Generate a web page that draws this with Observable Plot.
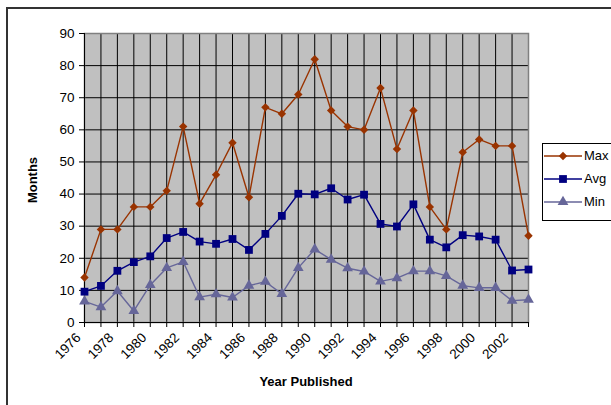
<!DOCTYPE html>
<html><head><meta charset="utf-8">
<script src="https://cdn.jsdelivr.net/npm/d3@7"></script>
<script src="https://cdn.jsdelivr.net/npm/@observablehq/plot@0.6"></script>
<style>
body{margin:0;background:#fff;font-family:"Liberation Sans",Arial,sans-serif}
#wrap{position:relative;width:611px;height:405px;overflow:hidden}
#border{position:absolute;left:6px;top:7px;width:700px;height:500px;border:2px solid #333;box-sizing:border-box}
#ytitle{position:absolute;left:32px;top:180px;transform:translate(-50%,-50%) rotate(-90deg);font-weight:bold;font-size:13px;white-space:nowrap}
#xtitle{position:absolute;left:306px;top:381px;transform:translate(-50%,-50%);font-weight:bold;font-size:13px;white-space:nowrap}
#legend{position:absolute;left:542px;top:143px;width:80px;height:78px;border:1px solid #000;box-sizing:border-box;background:#fff}
.li{position:absolute;left:0;height:16px;font-size:13px}
.li svg{position:absolute;left:1px;top:0}
.li span{position:absolute;left:41px;top:0;line-height:16px}
#chart{position:absolute;left:0;top:0}
#chart svg text{font-family:"Liberation Sans",Arial,sans-serif !important;font-size:13.5px !important}
</style></head><body>
<div id="wrap"><div id="border"></div><div id="chart"></div>
<div id="ytitle">Months</div><div id="xtitle">Year Published</div>
<div id="legend"></div></div>
<script>
const years = [1976,1977,1978,1979,1980,1981,1982,1983,1984,1985,1986,1987,1988,1989,1990,1991,1992,1993,1994,1995,1996,1997,1998,1999,2000,2001,2002,2003];
const maxVals = [14,29,29,36,36,41,61,37,46,56,39,67,65,71,82,66,61,60,73,54,66,36,29,53,57,55,55,27];
const avgVals = [9.6,11.4,16.1,18.8,20.6,26.3,28.2,25.2,24.5,26,22.6,27.6,33.2,40.1,39.9,41.8,38.3,39.8,30.7,29.9,36.8,25.8,23.4,27.2,26.8,25.8,16.2,16.5];
const minVals = [6.6,4.8,9.8,3.6,11.7,17,18.9,7.9,8.8,7.8,11.5,12.7,8.9,17,22.8,19.6,16.9,15.9,12.8,13.8,16,16,14.5,11.5,10.8,10.8,6.8,7.1];
const yTicks = [0,10,20,30,40,50,60,70,80,90];
const labelYears = [1976,1978,1980,1982,1984,1986,1988,1990,1992,1994,1996,1998,2000,2002];

const series = [
  {name:"Max", vals:maxVals, color:"#993300", symbol:"diamond2", r:3.8},
  {name:"Avg", vals:avgVals, color:"#000080", symbol:"square", r:4.4},
  {name:"Min", vals:minVals, color:"#666699", symbol:"triangle", r:4.0}
];
const rows = series.flatMap(s => years.map((y,i) => ({year:y, value:s.vals[i], name:s.name})));

const marks = [
  Plot.frame({fill:"#c0c0c0"}),
  Plot.gridY(yTicks, {stroke:"#000", strokeOpacity:1}),
  Plot.gridX(years, {stroke:"#000", strokeOpacity:1}),
  Plot.frame({stroke:"#808080", strokeWidth:1.5}),
  Plot.ruleX([1976], {stroke:"#000"}),
  Plot.ruleY([0], {stroke:"#000"}),
  Plot.axisY({ticks:yTicks, tickSize:5, tickFormat:() => "", label:null}),
  Plot.axisX({ticks:years, tickSize:5, tickFormat:() => "", label:null}),
  Plot.text(yTicks, {y:d => d, frameAnchor:"left", dx:-10, textAnchor:"end", text:d => String(d), fontSize:13.5, fill:"#000"}),
  Plot.text(labelYears, {x:d => d, frameAnchor:"bottom", rotate:-45, textAnchor:"end", dx:-3, dy:16, text:d => String(d), fontSize:13.5, fill:"#000"})
];
for (const s of series) {
  const d = rows.filter(r => r.name === s.name);
  marks.push(Plot.line(d, {x:"year", y:"value", stroke:s.color, strokeWidth:1.4}));
  marks.push(Plot.dot(d, {x:"year", y:"value", fill:s.color, stroke:"none", symbol:s.symbol, r:s.r}));
}

const chart = Plot.plot({
  width:611, height:405,
  marginLeft:84, marginRight:83, marginTop:33, marginBottom:83,
  x:{type:"linear", domain:[1976,2003]},
  y:{domain:[0,90]},
  style:{fontFamily:"'Liberation Sans', Arial, sans-serif", fontSize:"13px", color:"#000", background:"transparent", overflow:"visible"},
  marks
});
document.getElementById("chart").appendChild(chart);

// legend
const leg = document.getElementById("legend");
const tops = [4, 27, 50];
series.forEach((s,i) => {
  const div = document.createElement("div");
  div.className = "li";
  div.style.top = tops[i] + "px";
  const sym = {diamond2:d3.symbolDiamond2, square:d3.symbolSquare, triangle:d3.symbolTriangle}[s.symbol];
  const path = d3.symbol(sym, Math.PI*s.r*s.r)();
  div.innerHTML = `<svg width="40" height="16"><line x1="0" x2="38" y1="8" y2="8" stroke="${s.color}" stroke-width="1.4"/><path d="${path}" transform="translate(19,8)" fill="${s.color}"/></svg><span>${s.name}</span>`;
  leg.appendChild(div);
});
</script>
</body></html>
